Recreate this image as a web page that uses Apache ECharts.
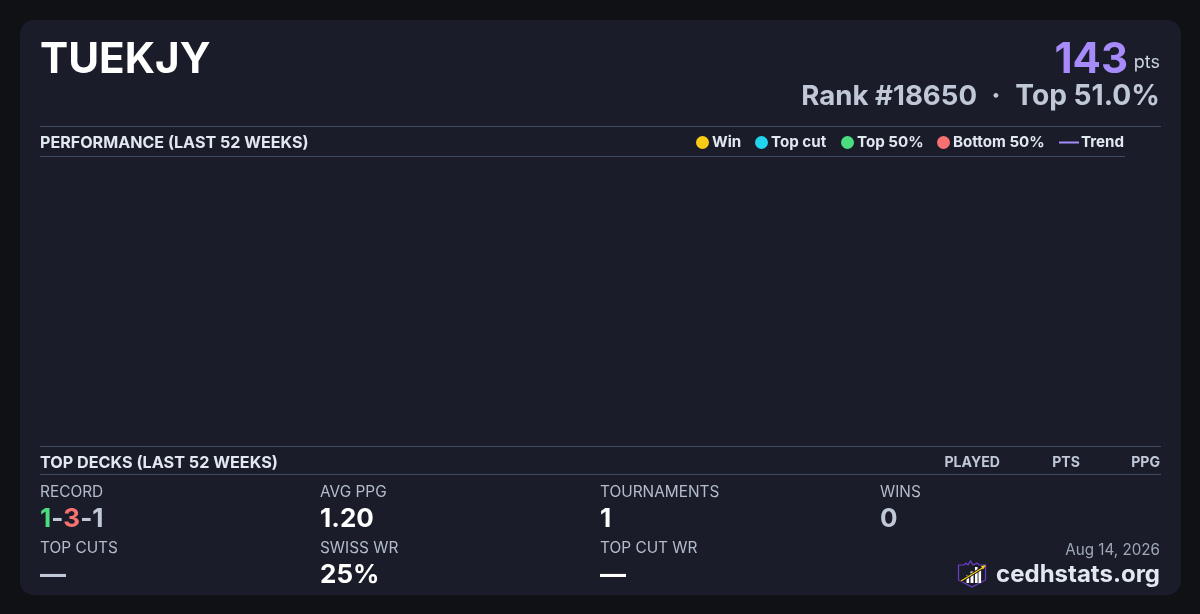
<!DOCTYPE html>
<html><head><meta charset="utf-8">
<style>html,body{margin:0;padding:0;background:#0f1115}#c{width:1200px;height:614px}</style>
<script src="https://cdn.jsdelivr.net/npm/echarts@6/dist/echarts.min.js"></script>
</head><body><div id="c"></div>
<script>
const playerName = 'TUEKJY';
const points = '143';
const rankText = 'Rank #18650';
const topText = 'Top 51.0%';
const perfTitle = 'PERFORMANCE (LAST 52 WEEKS)';
const decksTitle = 'TOP DECKS (LAST 52 WEEKS)';
const deckColumns = ['PLAYED', 'PTS', 'PPG'];
const legendNames = ['Win', 'Top cut', 'Top 50%', 'Bottom 50%', 'Trend'];
const legendColors = ['#facc15', '#22d3ee', '#4ade80', '#f87171', '#a78bfa'];
const winPoints = [];
const topCutPoints = [];
const top50Points = [];
const bottom50Points = [];
const trendPoints = [];
const statLabels = ['RECORD', 'AVG PPG', 'TOURNAMENTS', 'WINS', 'TOP CUTS', 'SWISS WR', 'TOP CUT WR'];
const statValues = ['', '1.20', '1', '0', '—', '25%', '—'];
const dateText = 'Aug 14, 2026';
const siteText = 'cedhstats.org';

const F = 'Inter, sans-serif';
const LINE = '#3f4a63';
function txt(x, y, text, size, weight, fill, align) {
  return {type:'text', z:5, x, y, style:{text, x:0, y:0, font:`${weight} ${size}px ${F}`, fill, align:align||'left', verticalAlign:'middle'}};
}
function rule(x1, x2, y) {
  return {type:'rect', z:3, shape:{x:x1, y:y, width:x2-x1, height:1}, style:{fill:LINE}};
}
const els = [
  {type:'rect', z:1, shape:{x:20,y:20,width:1161,height:575,r:14}, style:{fill:'#1a1d29'}},
  txt(40, 60, playerName, 42.2, 700, '#ffffff'),
  txt(1128, 60, points, 42, 700, '#a78bfa', 'right'),
  txt(1160, 62.5, 'pts', 18, 400, '#cbd5e1', 'right'),
  txt(977, 97, rankText, 27.6, 700, '#c0c8d8', 'right'),
  txt(996, 97, '·', 28, 700, '#c0c8d8', 'center'),
  txt(1160, 97, topText, 28.2, 700, '#c0c8d8', 'right'),
  rule(40, 1161, 126), rule(40, 1125, 156), rule(40, 1161, 446), rule(40, 1161, 474),
  txt(40, 143, perfTitle, 16.1, 700, '#e2e8f0'),
  txt(40, 463, decksTitle, 16.2, 700, '#e2e8f0'),
  txt(1000, 463, deckColumns[0], 14.1, 700, '#c0c8d8', 'right'),
  txt(1080, 463, deckColumns[1], 14.1, 700, '#c0c8d8', 'right'),
  txt(1160, 463, deckColumns[2], 14.1, 700, '#c0c8d8', 'right'),
  txt(1160, 550, dateText, 15.2, 400, '#a0a8b8', 'right'),
  txt(1160, 575, siteText, 24, 700, '#e2e8f0', 'right'),
];
const cols = [40, 320, 600, 880];
statLabels.forEach((l, i) => {
  const cx = cols[i % 4], row = i < 4 ? 0 : 1;
  els.push(txt(cx, 492.5 + row*56, l, 15.4, 400, '#b4bccb'));
  if (statValues[i]) {
    const fill = (i === 3 || i === 4) ? '#c0c8d8' : '#ffffff';
    els.push(txt(cx, 519.5 + row*56, statValues[i], 26, 700, fill));
  }
});
// record with coloured parts
els.push({type:'text', z:5, x:40, y:519.5, style:{
  text:'{a|1}{b|-}{c|3}{b|-}{b|1}', x:0, y:0, verticalAlign:'middle',
  rich:{a:{font:`700 26px ${F}`, fill:'#4ade80'}, b:{font:`700 26px ${F}`, fill:'#c0c8d8'}, c:{font:`700 26px ${F}`, fill:'#f87171'}}
}});
// logo
els.push(
  {type:'polygon', z:5, shape:{points:[[958.5,565],[964,565],[966,563],[968,565],[970.5,561],[973,565],[977,563],[979,565],[985.5,565],[985.5,580],[972,587],[958.5,580]]}, style:{fill:'#1a1d29', stroke:'#6d3fc9', lineWidth:1.2}},
  {type:'rect', z:6, shape:{x:966.5,y:575,width:2.6,height:8}, style:{fill:'#fff'}},
  {type:'rect', z:6, shape:{x:970.5,y:571.5,width:3,height:11.5}, style:{fill:'#fff'}},
  {type:'rect', z:6, shape:{x:975,y:567,width:2.6,height:16}, style:{fill:'#fff'}},
  {type:'rect', z:6, shape:{x:978.5,y:570,width:2.6,height:13}, style:{fill:'#fff'}},
  {type:'line', z:7, shape:{x1:961,y1:581,x2:984,y2:567}, style:{stroke:'#11131a', lineWidth:3}},
  {type:'line', z:8, shape:{x1:961,y1:581,x2:984,y2:567}, style:{stroke:'#facc15', lineWidth:1.3}},
  {type:'polygon', z:8, shape:{points:[[986,565],[981,566],[983,569.5]]}, style:{fill:'#facc15'}}
);

const legendLefts = [696, 755, 841, 937, 1059];
const legends = legendNames.map((n, i) => ({
  data:[n], left:legendLefts[i], top:135, padding:0, orient:'horizontal',
  itemWidth: i === 4 ? 20 : 13, itemHeight: i === 4 ? 2 : 13, itemGap:0,
  icon: i === 4 ? 'rect' : 'circle', selectedMode:false,
  textStyle:{color:'#e2e8f0', fontFamily:'Inter', fontWeight:700, fontSize:15.15, padding:[0,0,0,i === 4 ? -3 : -2]},
  z:6
}));
const scatter = (i, data) => ({name:legendNames[i], type:'scatter', data, itemStyle:{color:legendColors[i], opacity:1}});
const chart = echarts.init(document.getElementById('c'), null, {width:1200, height:614});
chart.setOption({
  backgroundColor:'#0f1115',
  animation:false,
  grid:{left:40, right:75, top:157, bottom:168, show:false},
  xAxis:{type:'value', show:false, min:0, max:52},
  yAxis:{type:'value', show:false, min:0, max:1},
  legend:legends,
  series:[
    scatter(0, winPoints), scatter(1, topCutPoints), scatter(2, top50Points), scatter(3, bottom50Points),
    {name:legendNames[4], type:'line', data:trendPoints, showSymbol:false, lineStyle:{color:legendColors[4], width:2}, itemStyle:{color:legendColors[4]}}
  ],
  graphic:{elements:els}
});
</script></body></html>
